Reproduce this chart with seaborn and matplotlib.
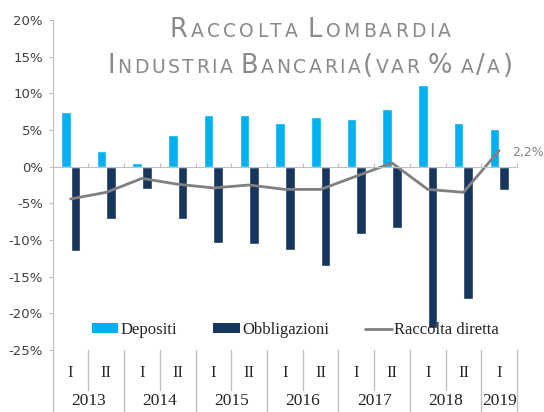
import numpy as np
import pandas as pd
import matplotlib
matplotlib.use("Agg")
import matplotlib.pyplot as plt
import matplotlib.transforms as mtransforms
from matplotlib.offsetbox import TextArea, HPacker, DrawingArea, AnnotationBbox
from matplotlib.patches import Patch
from matplotlib.lines import Line2D
import seaborn as sns

# dati (var % a/a)
anni = ['2013', '2014', '2015', '2016', '2017', '2018', '2019']
semestri = ['I', 'II', 'I', 'II', 'I', 'II', 'I', 'II', 'I', 'II', 'I', 'II', 'I']
depositi = [7.4, 2.1, 0.5, 4.3, 7.1, 7.1, 5.9, 6.8, 6.5, 7.8, 11.2, 5.9, 5.2]
obbligazioni = [-11.5, -7.1, -3.0, -7.2, -10.4, -10.6, -11.3, -13.6, -9.2, -8.3, -22.0, -18.1, -3.2]
raccolta = [-4.4, -3.5, -1.6, -2.4, -2.9, -2.5, -3.1, -3.1, -1.3, 0.5, -3.1, -3.5, 2.2]
yticks = list(range(-25, 21, 5))

col_dep = '#00b0f0'
col_obb = '#17365d'
col_rac = '#808080'
col_ax = '#bfbfbf'

periodi = [f'{anni[i // 2]} {s}' for i, s in enumerate(semestri)]
n = len(periodi)

df = pd.DataFrame({
    'periodo': periodi * 2,
    'serie': ['Depositi'] * n + ['Obbligazioni'] * n,
    'valore': depositi + obbligazioni,
})

sns.set_style('white')
plt.rcParams['font.family'] = ['DejaVu Sans']

fig = plt.figure(figsize=(5.44, 4.12), dpi=100)
ax = fig.add_axes([0.0969, 0.1505, 0.8535, 0.801])

sns.barplot(data=df, x='periodo', y='valore', hue='serie',
            palette=[col_dep, col_obb], width=0.54, gap=0, saturation=1,
            errorbar=None, legend=False, ax=ax)
sns.lineplot(x=np.arange(n), y=raccolta, color=col_rac, linewidth=2, ax=ax)

ax.set_xlim(-0.5, n - 0.5)
ax.set_ylim(-25, 20)
ax.set_yticks(yticks)
ax.set_yticklabels([f'{v}%' for v in yticks], fontsize=9.5, color='#404040')
ax.tick_params(axis='y', direction='out', length=3, color=col_ax, pad=4, left=True)
ax.set_xticks(np.arange(-0.5, n, 1.0))
ax.set_xticklabels([])
ax.tick_params(axis='x', direction='in', length=3, color=col_ax, bottom=True)
ax.set_xlabel('')
ax.set_ylabel('')

sns.despine(ax=ax)
ax.spines['bottom'].set_position(('data', 0))
ax.spines['bottom'].set_color(col_ax)
ax.spines['left'].set_color(col_ax)

# tabella delle categorie sotto il grafico
trans = mtransforms.blended_transform_factory(ax.transData, ax.transAxes)
fondo = -0.19
for i, s in enumerate(semestri):
    ax.text(i, -0.07, s, transform=trans, ha='center', va='center',
            fontsize=12, family='Liberation Serif', color='#262626')
    if s == 'II':
        ax.plot([i - 0.5, i - 0.5], [0, -0.122], transform=trans,
                color=col_ax, lw=1, clip_on=False)
inizio = 0
for a in anni:
    k = sum(1 for p in periodi if p.startswith(a))
    ax.text(inizio + (k - 1) / 2, -0.155, a, transform=trans, ha='center', va='center',
            fontsize=12.5, family='Liberation Serif', color='#262626')
    ax.plot([inizio - 0.5, inizio - 0.5], [0, fondo], transform=trans,
            color=col_ax, lw=1, clip_on=False)
    inizio += k
ax.plot([n - 0.5, n - 0.5], [0, fondo], transform=trans,
        color=col_ax, lw=1, clip_on=False)

# etichetta ultimo valore
ax.annotate(f'{raccolta[-1]:.1f}%'.replace('.', ','), xy=(n - 1, raccolta[-1]),
            xytext=(9.5, -1.5), textcoords='offset points', ha='left', va='center',
            fontsize=9, color=col_rac)

# legenda
handles = [Patch(facecolor=col_dep, edgecolor='none', label='Depositi'),
           Patch(facecolor=col_obb, edgecolor='none', label='Obbligazioni'),
           Line2D([], [], color=col_rac, lw=2, label='Raccolta diretta')]
ax.legend(handles=handles, loc='center left', bbox_to_anchor=(0.084, 0.06),
          ncol=3, frameon=False, borderaxespad=0, borderpad=0,
          handlelength=1.6, handleheight=0.56, handletextpad=0.15,
          columnspacing=2.15, prop={'family': 'Liberation Serif', 'size': 12})

# titolo in maiuscoletto, una lettera per volta per allargarlo
def maiuscoletto(testo):
    aree = []
    for c in testo:
        if c == ' ':
            aree.append(DrawingArea(2.5, 0))
        else:
            grande = not c.islower()
            aree.append(TextArea(c.upper(), textprops=dict(
                family='DejaVu Sans', color='#8a8a8a',
                fontsize=18.5 if grande else 13.5)))
    return HPacker(children=aree, align='baseline', pad=0, sep=0)

righe = [(maiuscoletto('Raccolta Lombardia'), 281, 1 - 30 / 412),
         (maiuscoletto('Industria Bancaria(var % a/a)'), 405, 1 - 66 / 412)]
renderer = fig.canvas.get_renderer()
for riga, larghezza, yy in righe:
    ab = AnnotationBbox(riga, (310 / 544, yy), xycoords='figure fraction',
                        box_alignment=(0.5, 0.5), frameon=False)
    fig.add_artist(ab)
    w = riga.get_bbox(renderer).width
    riga.sep = (larghezza - w) / (len(riga.get_children()) - 1) / renderer.points_to_pixels(1.)

fig.savefig('out.png', dpi=100)
